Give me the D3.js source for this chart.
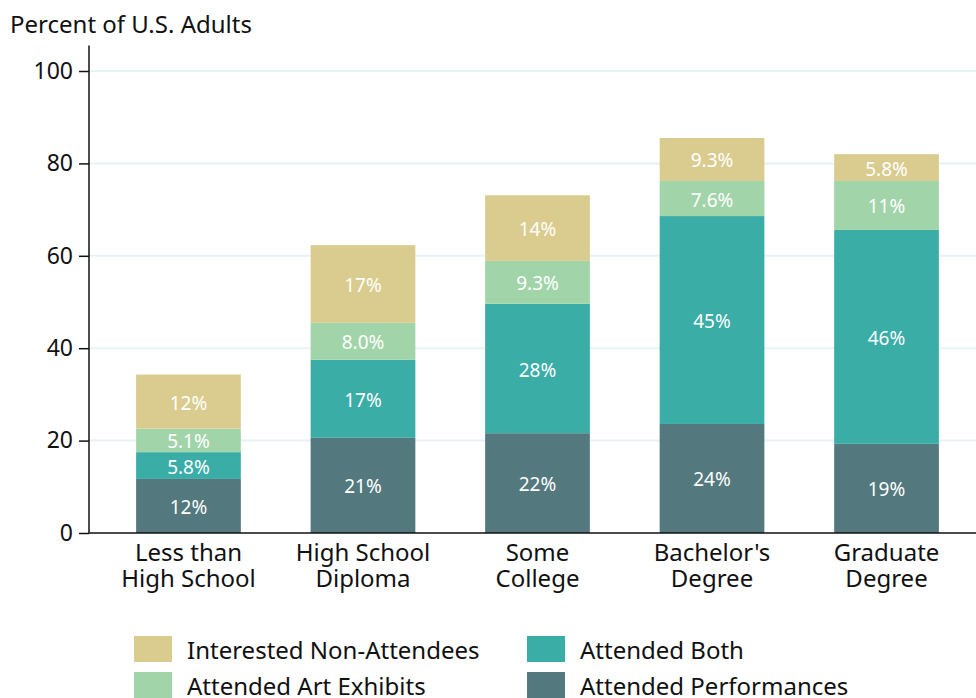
<!DOCTYPE html>
<html>
<head>
<meta charset="utf-8">
<script src="https://cdn.jsdelivr.net/npm/d3@7"></script>
<style>
  body { margin: 0; background: #fff; }
  svg { display: block; font-family: "Noto Sans", "Open Sans", sans-serif; }
  .bar-label { fill: #fff; font-size: 19px; text-anchor: middle; dominant-baseline: central; }
</style>
</head>
<body>
<div id="chart"></div>
<script>
// dati
const CATEGORIES = [["Less than", "High School"], ["High School", "Diploma"], ["Some", "College"], ["Bachelor's", "Degree"], ["Graduate", "Degree"]];
const SERIES = ["Attended Performances", "Attended Both", "Attended Art Exhibits", "Interested Non-Attendees"];
const PERFORMANCES = [11.7, 20.6, 21.6, 23.6, 19.3];
const BOTH = [5.8, 16.9, 28.0, 45.0, 46.3];
const ART = [5.1, 8.0, 9.3, 7.6, 10.6];
const INTERESTED = [11.7, 16.8, 14.2, 9.3, 5.8];
const Y_TICKS = [0, 20, 40, 60, 80, 100];
const COLORS = ["#53797e", "#3aada7", "#a2d4aa", "#d9cc8e"];

const W = 976, H = 698;
const x0 = 89, yBase = 533;
const FONT = '"Noto Sans", "Open Sans", sans-serif';

const svg = d3.select('#chart').append('svg').attr('width', W).attr('height', H);

const x = d3.scaleBand()
    .domain(d3.range(CATEGORIES.length))
    .range([x0, 986])
    .paddingInner(0.4)
    .paddingOuter(0.27);

const y = d3.scaleLinear().domain([0, 100]).range([yBase, 71]);

// gridlines
svg.append('g')
    .selectAll('line')
    .data(Y_TICKS.slice(1))
    .join('line')
    .attr('x1', x0).attr('x2', W)
    .attr('y1', d => y(d)).attr('y2', d => y(d))
    .attr('stroke', '#e6f2f4').attr('stroke-width', 2);

// stack
const rows = CATEGORIES.map((c, i) => ({
    i,
    "Attended Performances": PERFORMANCES[i],
    "Attended Both": BOTH[i],
    "Attended Art Exhibits": ART[i],
    "Interested Non-Attendees": INTERESTED[i]
}));
const stacked = d3.stack().keys(SERIES)(rows);
const color = d3.scaleOrdinal().domain(SERIES).range(COLORS);
const fmt = v => v >= 10 ? d3.format('.0f')(v) + '%' : d3.format('.1f')(v) + '%';

const layer = svg.append('g')
    .selectAll('g')
    .data(stacked)
    .join('g')
    .attr('fill', d => color(d.key));

layer.selectAll('rect')
    .data(d => d)
    .join('rect')
    .attr('x', d => x(d.data.i))
    .attr('width', x.bandwidth())
    .attr('y', d => y(d[1]))
    .attr('height', d => y(d[0]) - y(d[1]));

layer.selectAll('text')
    .data(d => d.map(s => ({ s, key: d.key })))
    .join('text')
    .attr('class', 'bar-label')
    .attr('x', d => x(d.s.data.i) + x.bandwidth() / 2)
    .attr('y', d => (y(d.s[0]) + y(d.s[1])) / 2 + 1)
    .text(d => fmt(d.s[1] - d.s[0]));

// assi
const yAxis = svg.append('g')
    .attr('transform', `translate(${x0},0)`)
    .call(d3.axisLeft(y).tickValues(Y_TICKS).tickSize(10).tickPadding(6))
    .attr('font-family', FONT)
    .attr('font-size', 23);
yAxis.select('.domain').remove();
yAxis.selectAll('.tick line').attr('stroke', '#111').attr('stroke-width', 1.5);
yAxis.selectAll('.tick text').attr('fill', '#111');

svg.append('line')
    .attr('x1', x0).attr('x2', x0)
    .attr('y1', y(105.5)).attr('y2', yBase)
    .attr('stroke', '#111').attr('stroke-width', 1.5);
svg.append('line')
    .attr('x1', x0).attr('x2', W)
    .attr('y1', yBase).attr('y2', yBase)
    .attr('stroke', '#111').attr('stroke-width', 1.5);

// etichette categorie
svg.append('g')
    .selectAll('text')
    .data(CATEGORIES)
    .join('text')
    .attr('x', (d, i) => x(i) + x.bandwidth() / 2)
    .attr('y', 561)
    .attr('text-anchor', 'middle')
    .attr('font-size', 24)
    .attr('fill', '#111')
    .each(function (d) {
        const t = d3.select(this);
        d.forEach((line, k) => {
            t.append('tspan').attr('x', t.attr('x')).attr('dy', k ? 26 : 0).text(line);
        });
    });

// titolo asse
svg.append('text')
    .attr('x', 10).attr('y', 33)
    .attr('font-size', 24)
    .attr('fill', '#111')
    .text('Percent of U.S. Adults');

// legenda
const LEGEND_ORDER = ["Interested Non-Attendees", "Attended Both", "Attended Art Exhibits", "Attended Performances"];
const leg = svg.append('g')
    .selectAll('g')
    .data(LEGEND_ORDER)
    .join('g')
    .attr('transform', (d, i) => `translate(${134 + (i % 2) * 393},${636 + Math.floor(i / 2) * 36})`);
leg.append('rect').attr('width', 38).attr('height', 26).attr('fill', d => color(d));
leg.append('text')
    .attr('x', 53).attr('y', 13)
    .attr('dominant-baseline', 'central')
    .attr('font-size', 24)
    .attr('fill', '#111')
    .text(d => d);
</script>
</body>
</html>
